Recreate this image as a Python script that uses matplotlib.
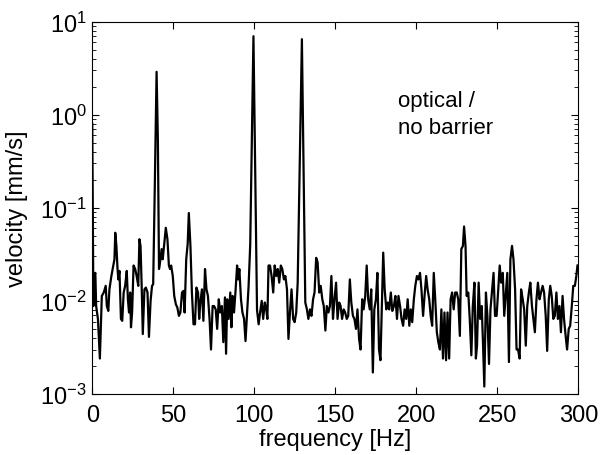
import matplotlib
matplotlib.use("Agg")
import matplotlib.pyplot as plt

plt.rcParams['font.family'] = ['Liberation Sans', 'DejaVu Sans']
plt.rcParams['mathtext.default'] = 'regular'

# spectrum: frequency [Hz] and velocity [mm/s]
freq = [0.0, 0.7, 1.9, 2.4, 3.5, 4.7, 5.9, 7.1, 8.3, 9.0, 9.9, 10.6, 11.8, 13.0, 13.7,
        14.2, 14.9, 15.6, 16.1, 16.8, 17.7, 18.5, 19.4, 20.3, 21.3, 22.0, 22.7, 23.4,
        23.9, 24.6, 25.5, 26.5, 27.4, 28.4, 29.1, 29.8, 30.5, 31.2, 32.2, 33.1, 34.1,
        35.0, 36.0, 36.9, 37.6, 38.6, 39.7, 40.5, 41.2, 42.1, 42.8, 43.5, 44.5, 45.4,
        46.4, 47.3, 48.0, 48.7, 49.7, 50.6, 51.6, 52.5, 53.5, 54.4, 55.4, 56.3, 57.0,
        58.0, 58.9, 59.6, 60.6, 61.5, 62.5, 63.4, 64.3, 65.3, 66.0, 66.7, 67.7, 68.6,
        69.6, 70.5, 71.4, 72.4, 73.3, 74.3, 75.2, 76.2, 77.1, 78.1, 79.0, 80.0, 80.9,
        81.9, 82.6, 83.3, 84.2, 85.2, 85.9, 86.6, 87.5, 88.5, 89.4, 90.1, 90.8, 91.8,
        92.7, 93.7, 94.6, 95.6, 96.5, 97.5, 99.5, 101.7, 102.7, 103.6, 104.6, 105.5,
        106.5, 107.4, 108.1, 108.8, 109.7, 110.7, 111.7, 112.6, 113.6, 114.5, 115.4,
        116.4, 117.3, 118.3, 119.2, 120.2, 121.1, 122.1, 123.0, 124.0, 124.9, 125.9,
        126.8, 129.4, 131.5, 132.5, 133.4, 134.4, 135.3, 136.3, 137.2, 138.2, 139.1,
        140.1, 141.0, 142.0, 142.9, 143.9, 144.8, 145.8, 146.7, 147.6, 148.6, 149.5,
        150.5, 151.4, 152.4, 153.3, 154.2, 155.2, 156.1, 157.1, 158.0, 159.0, 159.9,
        160.9, 161.8, 162.8, 163.7, 164.7, 165.6, 166.6, 167.5, 168.5, 169.4, 170.3,
        171.3, 172.2, 173.2, 174.1, 175.1, 176.0, 177.0, 177.9, 178.9, 179.6, 180.5,
        181.5, 182.4, 183.3, 184.3, 185.2, 186.2, 187.1, 188.1, 189.0, 190.0, 190.9,
        191.9, 192.8, 193.8, 194.7, 195.7, 196.6, 197.5, 198.5, 199.4, 200.4, 201.3,
        202.3, 203.2, 204.2, 205.1, 206.1, 207.0, 208.0, 208.9, 209.8, 210.8, 211.7,
        212.7, 213.6, 214.6, 215.5, 216.5, 217.4, 218.4, 219.3, 220.3, 221.2, 222.1,
        223.1, 224.0, 225.0, 225.9, 226.9, 227.8, 228.8, 229.5, 230.4, 231.1, 232.1,
        233.0, 234.0, 234.9, 235.9, 236.8, 237.5, 238.5, 239.4, 240.4, 241.1, 242.0,
        243.0, 243.9, 244.9, 245.8, 246.7, 247.7, 248.6, 249.6, 250.5, 251.5, 252.4,
        253.4, 254.3, 255.3, 256.2, 257.2, 258.1, 259.1, 260.0, 261.0, 261.9, 262.8,
        263.8, 264.7, 265.7, 266.6, 267.6, 268.5, 269.5, 270.4, 271.4, 272.3, 273.2,
        274.2, 275.1, 276.1, 277.0, 278.0, 278.9, 279.9, 280.8, 281.8, 282.7, 283.6,
        284.6, 285.5, 286.5, 287.4, 288.4, 289.3, 290.3, 291.2, 292.2, 293.1, 294.1,
        295.0, 296.0, 296.9, 297.9, 298.8, 299.5]
vel = [0.8, 0.0088, 0.020, 0.0088, 0.0064, 0.0024, 0.0113, 0.0123, 0.0145, 0.0088,
       0.0078, 0.0133, 0.0185, 0.024, 0.028, 0.054, 0.039, 0.022, 0.017, 0.021,
       0.0064, 0.0061, 0.0123, 0.0145, 0.021, 0.0104, 0.0075, 0.0123, 0.0052, 0.0075,
       0.024, 0.022, 0.0185, 0.0145, 0.046, 0.039, 0.0145, 0.0044, 0.0133, 0.0139,
       0.0123, 0.0041, 0.0100, 0.0145, 0.0151, 0.17, 2.9, 0.54, 0.022, 0.028,
       0.036, 0.028, 0.042, 0.061, 0.046, 0.024, 0.022, 0.024, 0.0185, 0.0113,
       0.0092, 0.0085, 0.0069, 0.0075, 0.0123, 0.0128, 0.0075, 0.028, 0.041, 0.088,
       0.039, 0.0123, 0.0056, 0.0056, 0.0139, 0.0123, 0.0064, 0.0096, 0.0133, 0.0061,
       0.022, 0.0133, 0.0113, 0.0064, 0.0030, 0.0088, 0.0088, 0.0081, 0.0050, 0.0104,
       0.0075, 0.0088, 0.0036, 0.0109, 0.0027, 0.0104, 0.0064, 0.0123, 0.0052, 0.0113,
       0.0075, 0.0133, 0.024, 0.017, 0.022, 0.0104, 0.0075, 0.0064, 0.0037, 0.0075,
       0.0145, 0.040, 7.0, 0.008, 0.0056, 0.0075, 0.0100, 0.0064, 0.0096, 0.0081,
       0.0064, 0.024, 0.024, 0.0185, 0.0123, 0.024, 0.0185, 0.022, 0.0157, 0.024,
       0.022, 0.017, 0.0185, 0.0133, 0.0039, 0.0078, 0.0133, 0.0064, 0.0059, 0.0075,
       0.0157, 6.5, 0.0096, 0.0081, 0.0064, 0.0081, 0.0069, 0.0104, 0.0123, 0.029,
       0.026, 0.0123, 0.0145, 0.0104, 0.0088, 0.0048, 0.0088, 0.0075, 0.0088, 0.0185,
       0.0064, 0.0104, 0.0157, 0.0064, 0.0096, 0.0088, 0.0064, 0.0081, 0.0075, 0.0064,
       0.0069, 0.017, 0.0096, 0.0069, 0.0064, 0.0050, 0.0081, 0.0039, 0.0030, 0.0104,
       0.0081, 0.0113, 0.024, 0.0104, 0.0081, 0.0133, 0.0017, 0.0081, 0.0104, 0.020,
       0.0030, 0.0023, 0.0104, 0.033, 0.0133, 0.0081, 0.0096, 0.0081, 0.0123, 0.0078,
       0.0088, 0.0113, 0.0064, 0.0113, 0.0088, 0.0064, 0.0054, 0.0081, 0.0064, 0.0104,
       0.0054, 0.0081, 0.0059, 0.0104, 0.0145, 0.0185, 0.017, 0.020, 0.0133, 0.0069,
       0.0113, 0.0185, 0.0133, 0.0104, 0.0069, 0.0054, 0.020, 0.0104, 0.0046, 0.0036,
       0.0030, 0.0081, 0.0024, 0.0075, 0.0023, 0.0075, 0.0024, 0.0104, 0.0123, 0.0081,
       0.0123, 0.0123, 0.0104, 0.0042, 0.036, 0.039, 0.063, 0.039, 0.0113, 0.0123,
       0.0064, 0.0026, 0.0088, 0.0157, 0.0024, 0.0033, 0.0157, 0.0064, 0.0088, 0.0039,
       0.0012, 0.0123, 0.0069, 0.0021, 0.0081, 0.0123, 0.020, 0.0069, 0.0069, 0.0123,
       0.024, 0.0157, 0.020, 0.0069, 0.0123, 0.020, 0.0022, 0.028, 0.039, 0.028,
       0.0133, 0.0030, 0.0030, 0.0024, 0.0133, 0.0104, 0.0081, 0.0033, 0.0088, 0.0123,
       0.0157, 0.0088, 0.0064, 0.0046, 0.0104, 0.0157, 0.0104, 0.0123, 0.0145, 0.0123,
       0.0069, 0.0029, 0.0104, 0.0145, 0.0113, 0.0064, 0.0069, 0.0123, 0.0064, 0.0088,
       0.0046, 0.0113, 0.0064, 0.0042, 0.0030, 0.0050, 0.0054, 0.0088, 0.0145, 0.0145,
       0.0185, 0.024]

fig = plt.figure(figsize=(6.03, 4.56), dpi=100)
ax = fig.add_axes([0.153, 0.134, 0.806, 0.816])

ax.semilogy(freq, vel, color="black", linewidth=1.6)

ax.set_xlim(0, 300)
ax.set_ylim(1e-3, 1e1)
ax.set_xticks([0, 50, 100, 150, 200, 250, 300])
ax.tick_params(which="both", direction="in", top=True, right=True, labelsize=17)
ax.tick_params(which="major", length=5)
ax.tick_params(which="minor", length=3)
ax.tick_params(axis="x", pad=7)
ax.tick_params(axis="y", pad=4)

ax.set_xlabel("frequency [Hz]", fontsize=17, labelpad=2)
ax.set_ylabel("velocity [mm/s]", fontsize=17, labelpad=9)

ax.text(189, 1.02, "optical /\nno barrier", fontsize=16, va="center", ha="left",
        linespacing=1.4)

plt.savefig("out.png", dpi=100)
